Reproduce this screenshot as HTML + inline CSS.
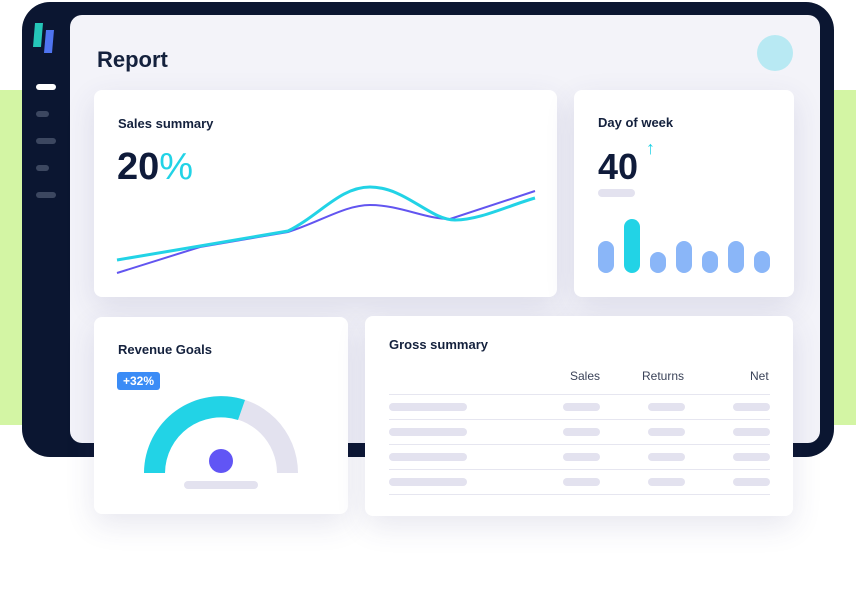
<!DOCTYPE html>
<html><head><style>
body{margin:0;width:856px;height:592px;background:#fff;position:relative;overflow:hidden;font-family:"Liberation Sans",sans-serif;color:#0f1b3a}
.a{position:absolute}
.card{position:absolute;background:#fff;border-radius:8px;box-shadow:0 10px 30px rgba(60,60,120,0.12)}
.t{position:absolute;font-size:13px;font-weight:bold;color:#14213d}
.pill{position:absolute;background:#e3e2ef;border-radius:5px;height:8px}
</style></head><body>
<div class="a" style="left:0;top:90px;width:856px;height:335px;background:#d3f5a4"></div>
<div class="a" style="left:22px;top:2px;width:812px;height:455px;background:#0b1631;border-radius:28px"></div>
<svg class="a" style="left:30px;top:20px" width="30" height="36"><polygon points="5,3 13,3 11,27 3,27" fill="#25c6b8"/><polygon points="16,10 24,10 22,33 14,33" fill="#4f74f0"/></svg>
<div class="a" style="left:36px;top:84px;width:20px;height:6px;border-radius:3px;background:#fff"></div>
<div class="a" style="left:36px;top:111px;width:13px;height:6px;border-radius:3px;background:#3c4760"></div>
<div class="a" style="left:36px;top:138px;width:20px;height:6px;border-radius:3px;background:#3c4760"></div>
<div class="a" style="left:36px;top:165px;width:13px;height:6px;border-radius:3px;background:#3c4760"></div>
<div class="a" style="left:36px;top:192px;width:20px;height:6px;border-radius:3px;background:#3c4760"></div>
<div class="a" style="left:70px;top:15px;width:750px;height:428px;background:#f3f3f9;border-radius:12px"></div>
<div class="a" style="left:97px;top:47px;font-size:22px;font-weight:bold;color:#14213d">Report</div>
<div class="a" style="left:757px;top:35px;width:36px;height:36px;border-radius:50%;background:#b8e9f3"></div>

<div class="card" style="left:94px;top:90px;width:463px;height:207px"></div>
<div class="t" style="left:118px;top:116px">Sales summary</div>
<div class="a" style="left:117px;top:146px;font-size:38px;font-weight:bold;color:#0f1b3a">20<span style="color:#22d3e6;font-weight:normal">%</span></div>
<svg class="a" style="left:0;top:0" width="856" height="592">
<path d="M117,273 L200,247 L288,232 C320,222 345,205 370,205 C400,205 425,219 450,219 L535,191" fill="none" stroke="#6255f0" stroke-width="2"/>
<path d="M117,260 L200,246 L288,231 C320,215 340,187 370,187 C405,187 430,220 455,220 C480,220 510,205 535,198" fill="none" stroke="#22d3e6" stroke-width="3"/>
</svg>

<div class="card" style="left:574px;top:90px;width:220px;height:207px"></div>
<div class="t" style="left:598px;top:115px">Day of week</div>
<div class="a" style="left:598px;top:146px;font-size:36px;font-weight:bold">40</div>
<div class="a" style="left:646px;top:138px;font-size:18px;color:#22d3e6">↑</div>
<div class="pill" style="left:598px;top:189px;width:37px"></div>
<div class="a" style="left:598px;top:241px;width:16px;height:32px;border-radius:8px;background:#8ab6f8"></div>
<div class="a" style="left:624px;top:219px;width:16px;height:54px;border-radius:8px;background:#22d3e6"></div>
<div class="a" style="left:650px;top:252px;width:16px;height:21px;border-radius:8px;background:#8ab6f8"></div>
<div class="a" style="left:676px;top:241px;width:16px;height:32px;border-radius:8px;background:#8ab6f8"></div>
<div class="a" style="left:702px;top:251px;width:16px;height:22px;border-radius:8px;background:#8ab6f8"></div>
<div class="a" style="left:728px;top:241px;width:16px;height:32px;border-radius:8px;background:#8ab6f8"></div>
<div class="a" style="left:754px;top:251px;width:16px;height:22px;border-radius:8px;background:#8ab6f8"></div>

<div class="card" style="left:94px;top:317px;width:254px;height:197px"></div>
<div class="t" style="left:118px;top:342px">Revenue Goals</div>
<div class="a" style="left:117px;top:372px;width:43px;height:18px;border-radius:3px;background:#3b8cf6;color:#fff;font-size:12px;font-weight:bold;text-align:center;line-height:18px">+32%</div>
<svg class="a" style="left:0;top:0" width="856" height="592">
<path d="M144,473 A77,77 0 0 1 298,473 L277,473 A56,56 0 0 0 165,473 Z" fill="#e3e2ef"/>
<path d="M144,473 A77,77 0 0 1 245,400 L238,420 A56,56 0 0 0 165,473 Z" fill="#22d3e6"/>
<circle cx="221" cy="461" r="12" fill="#6155f5"/>
</svg>
<div class="pill" style="left:184px;top:481px;width:74px"></div>

<div class="card" style="left:365px;top:316px;width:428px;height:200px"></div>
<div class="t" style="left:389px;top:337px">Gross summary</div>
<div class="a" style="left:570px;top:369px;font-size:12px;color:#3a4258">Sales</div>
<div class="a" style="left:642px;top:369px;font-size:12px;color:#3a4258">Returns</div>
<div class="a" style="left:750px;top:369px;font-size:12px;color:#3a4258">Net</div>
<div class="a" style="left:389px;top:394px;width:381px;height:1px;background:#e6e6f0"></div>
<div class="a" style="left:389px;top:419px;width:381px;height:1px;background:#e6e6f0"></div>
<div class="a" style="left:389px;top:444px;width:381px;height:1px;background:#e6e6f0"></div>
<div class="a" style="left:389px;top:469px;width:381px;height:1px;background:#e6e6f0"></div>
<div class="a" style="left:389px;top:494px;width:381px;height:1px;background:#e6e6f0"></div>
<div class="pill" style="left:389px;top:403px;width:78px"></div><div class="pill" style="left:563px;top:403px;width:37px"></div><div class="pill" style="left:648px;top:403px;width:37px"></div><div class="pill" style="left:733px;top:403px;width:37px"></div>
<div class="pill" style="left:389px;top:428px;width:78px"></div><div class="pill" style="left:563px;top:428px;width:37px"></div><div class="pill" style="left:648px;top:428px;width:37px"></div><div class="pill" style="left:733px;top:428px;width:37px"></div>
<div class="pill" style="left:389px;top:453px;width:78px"></div><div class="pill" style="left:563px;top:453px;width:37px"></div><div class="pill" style="left:648px;top:453px;width:37px"></div><div class="pill" style="left:733px;top:453px;width:37px"></div>
<div class="pill" style="left:389px;top:478px;width:78px"></div><div class="pill" style="left:563px;top:478px;width:37px"></div><div class="pill" style="left:648px;top:478px;width:37px"></div><div class="pill" style="left:733px;top:478px;width:37px"></div>
</body></html>
